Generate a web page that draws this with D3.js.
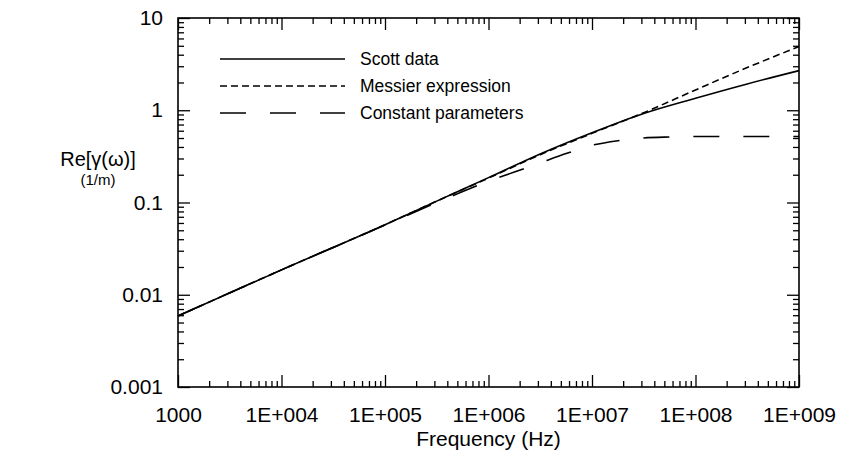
<!DOCTYPE html>
<html>
<head>
<meta charset="utf-8">
<script src="https://cdn.jsdelivr.net/npm/d3@7"></script>
<style>
  body { margin: 0; background: #fff; }
  svg { font-family: "Liberation Sans", Arial, sans-serif; }
</style>
</head>
<body>
<div id="chart"></div>
<script>
// frequencies (Hz) and Re[gamma] values (1/m)
const scottFreq = [1e3, 1e4, 1e5, 3.16e5, 1e6, 3.16e6, 1e7, 3.16e7, 1e8, 3.16e8, 1e9];
const scottVals = [0.00589, 0.0186, 0.0575, 0.1035, 0.186, 0.336, 0.57, 0.923, 1.35, 1.93, 2.69];

const messierFreq = [1e3, 1e4, 1e5, 3.16e5, 1e6, 3.16e6, 1e7, 3.16e7, 1e8, 3.16e8, 1e9];
const messierVals = [0.00589, 0.0186, 0.0575, 0.1035, 0.184, 0.33, 0.562, 0.94, 1.66, 2.9, 4.9];

const constFreq = [1e3, 1e4, 1e5, 3.16e5, 1e6, 1.78e6, 3.16e6, 5.62e6, 1e7, 1.78e7, 3.16e7, 5.62e7, 1e8, 1e9];
const constVals = [0.00589, 0.0186, 0.0569, 0.1, 0.17, 0.214, 0.269, 0.339, 0.417, 0.468, 0.501, 0.513, 0.519, 0.519];

const seriesNames = ["Scott data", "Messier expression", "Constant parameters"];

const xMajor = [1e3, 1e4, 1e5, 1e6, 1e7, 1e8, 1e9];
const xLabels = ["1000", "1E+004", "1E+005", "1E+006", "1E+007", "1E+008", "1E+009"];
const yMajor = [0.001, 0.01, 0.1, 1, 10];
const yLabels = ["0.001", "0.01", "0.1", "1", "10"];

const width = 847, height = 464;
const margin = {left: 178, right: 48, top: 18, bottom: 77};

const svg = d3.select("#chart").append("svg")
    .attr("width", width)
    .attr("height", height);

const x = d3.scaleLog().domain([1e3, 1e9]).range([margin.left, width - margin.right]);
const y = d3.scaleLog().domain([0.001, 10]).range([height - margin.bottom, margin.top]);

const xMinor = x.ticks().filter(t => !xMajor.includes(t));
const yMinor = y.ticks().filter(t => !yMajor.some(m => Math.abs(m - t) / m < 1e-9));

const x0 = margin.left, x1 = width - margin.right;
const y0 = height - margin.bottom, y1 = margin.top;

function styleAxis(g) {
    g.select(".domain").remove();
    g.selectAll("line").attr("stroke", "#000").attr("stroke-width", 1.3);
    g.selectAll("text").attr("fill", "#000").attr("font-size", 21);
}

// bottom
svg.append("g").attr("transform", `translate(0,${y0})`)
    .call(d3.axisBottom(x).tickValues(xMinor).tickSize(-6).tickFormat(""))
    .call(styleAxis);
svg.append("g").attr("transform", `translate(0,${y0})`)
    .call(d3.axisBottom(x).tickValues(xMajor).tickSize(-12).tickPadding(20)
        .tickFormat((d, i) => xLabels[i]))
    .call(styleAxis);
// top
svg.append("g").attr("transform", `translate(0,${y1})`)
    .call(d3.axisTop(x).tickValues(xMinor).tickSize(-6).tickFormat(""))
    .call(styleAxis);
svg.append("g").attr("transform", `translate(0,${y1})`)
    .call(d3.axisTop(x).tickValues(xMajor).tickSize(-12).tickFormat(""))
    .call(styleAxis);
// left
svg.append("g").attr("transform", `translate(${x0},0)`)
    .call(d3.axisLeft(y).tickValues(yMinor).tickSize(-6).tickFormat(""))
    .call(styleAxis);
svg.append("g").attr("transform", `translate(${x0},0)`)
    .call(d3.axisLeft(y).tickValues(yMajor).tickSize(-12).tickPadding(15)
        .tickFormat((d, i) => yLabels[i]))
    .call(styleAxis);
// right
svg.append("g").attr("transform", `translate(${x1},0)`)
    .call(d3.axisRight(y).tickValues(yMinor).tickSize(-6).tickFormat(""))
    .call(styleAxis);
svg.append("g").attr("transform", `translate(${x1},0)`)
    .call(d3.axisRight(y).tickValues(yMajor).tickSize(-12).tickFormat(""))
    .call(styleAxis);

// frame
svg.append("rect")
    .attr("x", x0).attr("y", y1)
    .attr("width", x1 - x0).attr("height", y0 - y1)
    .attr("fill", "none").attr("stroke", "#000").attr("stroke-width", 1.6);

// curves
const line = d3.line()
    .x(d => x(d[0]))
    .y(d => y(d[1]))
    .curve(d3.curveMonotoneX);

const series = [
    {name: seriesNames[0], data: d3.zip(scottFreq, scottVals), dash: null},
    {name: seriesNames[1], data: d3.zip(messierFreq, messierVals), dash: "7,4"},
    {name: seriesNames[2], data: d3.zip(constFreq, constVals), dash: "26,24"}
];

// draw constant first, solid on top
series.slice().reverse().forEach(s => {
    svg.append("path")
        .datum(s.data)
        .attr("d", line)
        .attr("fill", "none")
        .attr("stroke", "#000")
        .attr("stroke-width", 1.6)
        .attr("stroke-dasharray", s.dash);
});

// legend
const legend = svg.append("g");
series.forEach((s, i) => {
    const ly = 59 + i * 27;
    legend.append("line")
        .attr("x1", 220).attr("x2", 345)
        .attr("y1", ly).attr("y2", ly)
        .attr("stroke", "#000").attr("stroke-width", 1.5)
        .attr("stroke-dasharray", s.dash);
    legend.append("text")
        .attr("x", 360).attr("y", ly)
        .attr("dy", "0.35em")
        .attr("font-size", 17.5)
        .text(s.name);
});

// axis titles
svg.append("text")
    .attr("x", (x0 + x1) / 2)
    .attr("y", 446)
    .attr("text-anchor", "middle")
    .attr("font-size", 21)
    .text("Frequency (Hz)");

svg.append("text")
    .attr("x", 98).attr("y", 166)
    .attr("text-anchor", "middle")
    .attr("font-size", 20)
    .text("Re[γ(ω)]");
svg.append("text")
    .attr("x", 98).attr("y", 185)
    .attr("text-anchor", "middle")
    .attr("font-size", 15)
    .text("(1/m)");
</script>
</body>
</html>
